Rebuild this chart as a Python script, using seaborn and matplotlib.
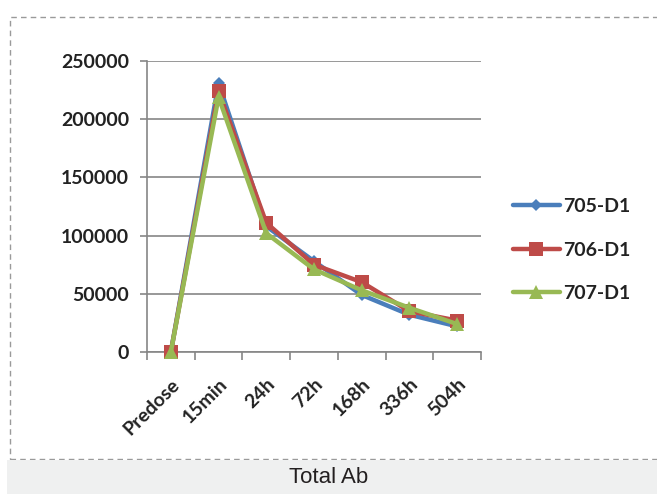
import matplotlib as mpl
import matplotlib.pyplot as plt
import seaborn as sns
import pandas as pd
from matplotlib.patches import Rectangle

# --- data ---
timepoints = ["Predose", "15min", "24h", "72h", "168h", "336h", "504h"]
series_names = ["705-D1", "706-D1", "707-D1"]
vals_705 = [0, 231000, 108000, 78000, 49000, 32000, 22000]
vals_706 = [0, 224000, 111000, 75000, 60000, 35000, 27000]
vals_707 = [0, 219000, 102000, 71000, 53000, 38000, 24000]
yticks = [0, 50000, 100000, 150000, 200000, 250000]

colors = {"705-D1": "#4a7ebb", "706-D1": "#be4b48", "707-D1": "#98b954"}
markers = {"705-D1": "D", "706-D1": "s", "707-D1": "^"}
msizes = {"705-D1": 6.5, "706-D1": 9.5, "707-D1": 10}

df = pd.DataFrame({
    "time": timepoints * 3,
    "value": vals_705 + vals_706 + vals_707,
    "series": sum([[s] * len(timepoints) for s in series_names], []),
})
df["pos"] = df["time"].map({t: i for i, t in enumerate(timepoints)})

sns.set_theme(style="white")
plt.rcParams['font.family'] = ['Lato', 'DejaVu Sans']

W, H = 657, 494
fig = plt.figure(figsize=(W / 100, H / 100), dpi=100)
ax = fig.add_axes([147 / W, 1 - 352 / H, (481 - 147) / W, (352 - 61) / H])

for s in series_names:
    sub = df[df["series"] == s]
    sns.lineplot(data=sub, x="pos", y="value", ax=ax, color=colors[s],
                 marker=markers[s], markersize=msizes[s], markeredgewidth=0,
                 linewidth=3.2, label=s, sort=False, zorder=3, clip_on=False)

ax.set_xlim(-0.5, len(timepoints) - 0.5)
ax.set_ylim(0, 250000)
ax.set_yticks(yticks)
ax.set_yticklabels([str(v) for v in yticks], fontsize=14, fontweight='bold', color='#222222')
ax.yaxis.grid(True, color='#868686', linewidth=1.2)
ax.set_axisbelow(True)
for sp in ["top", "right"]:
    ax.spines[sp].set_visible(False)
for sp in ["left", "bottom"]:
    ax.spines[sp].set_color('#868686')
    ax.spines[sp].set_linewidth(1.2)
ax.tick_params(axis='y', length=5, width=1.2, color='#868686', pad=8, left=True)

# tick marks between categories, labels at category centers
ax.set_xticks([i - 0.5 for i in range(len(timepoints) + 1)], minor=True)
ax.set_xticks(range(len(timepoints)))
ax.set_xticklabels(timepoints, fontsize=14, fontweight='bold', color='#222222',
                   rotation=45, ha='right', va='top', rotation_mode='anchor')
ax.tick_params(axis='x', which='major', length=0, pad=17)
ax.tick_params(axis='x', which='minor', length=6, width=1.2, color='#868686', bottom=True)
ax.set_xlabel("")
ax.set_ylabel("")

handles, labels = ax.get_legend_handles_labels()
ax.get_legend().remove()
fig.legend(handles, labels, loc='center left', bbox_to_anchor=(513 / W, 1 - 250 / H),
           frameon=False, prop={'family': ['Lato', 'DejaVu Sans'], 'weight': 'bold', 'size': 14},
           handlelength=2.4, handletextpad=0.2, labelspacing=1.35,
           borderpad=0, borderaxespad=0)
for t in fig.legends[0].get_texts():
    t.set_color('#222222')

# dashed frame and caption band
fig.patches.append(Rectangle((10 / W, 1 - 459 / H), 1.2, (459 - 17) / H,
                             transform=fig.transFigure, fill=False,
                             edgecolor='#9a9a9a', linestyle=(0, (4, 3)), linewidth=1))
fig.patches.append(Rectangle((7 / W, 0), 1, (494 - 460) / H,
                             transform=fig.transFigure, facecolor='#eff0f0',
                             edgecolor='none'))
fig.text(0.5, 1 - 477 / H, "Total Ab", ha='center', va='center', fontsize=16,
         family=['Liberation Sans', 'DejaVu Sans'], color='#231f20')

fig.savefig("out.png", dpi=100)
